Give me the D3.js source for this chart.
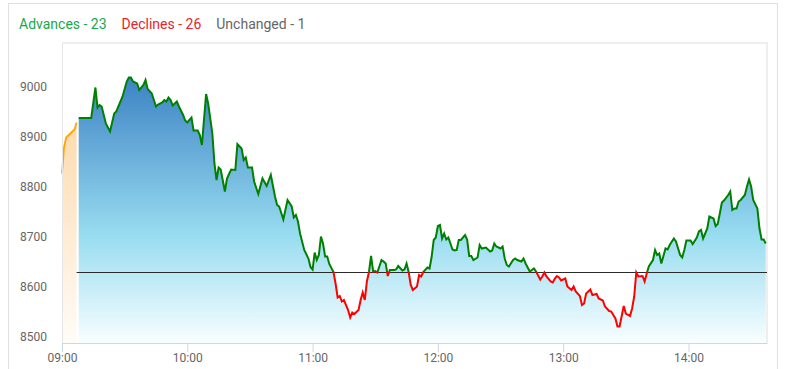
<!DOCTYPE html>
<html>
<head>
<meta charset="utf-8">
<script src="https://cdn.jsdelivr.net/npm/d3@7"></script>
<style>
    body { margin: 0; background: #fff; font-family: Roboto, "Noto Sans", sans-serif; }
</style>
</head>
<body>
<div id="chart"></div>
<script>
// legend
const legendLabels = ["Advances", "Declines", "Unchanged"];
const legendCounts = [23, 26, 1];
const legendColors = ["#17a84c", "#e8232c", "#666666"];

// axes
const yTicks = [8500, 8600, 8700, 8800, 8900, 9000];
const xTicks = ["09:00", "10:00", "11:00", "12:00", "13:00", "14:00"];
const yDomain = [8488, 9088];
const xDomain = ["09:00:00", "14:37:36"];

const prevClose = 8630;

// pre-open session
const preTimes = ["09:00", "09:01", "09:02", "09:04", "09:06", "09:07"];
const preValues = [8827, 8880, 8899, 8907, 8915, 8929];

// regular session
const times = [
    "09:08","09:14","09:16","09:17","09:18","09:19","09:21","09:23","09:25","09:26","09:28","09:29","09:31","09:32","09:33","09:34","09:36","09:37","09:39","09:40","09:41","09:43","09:45","09:46","09:48","09:49","09:50","09:51","09:52","09:53","09:55","09:56","09:58","09:59",
    "10:00","10:02","10:03","10:05","10:06","10:07","10:09","10:10","10:12","10:13","10:14","10:15","10:16","10:18","10:19","10:20","10:21","10:23","10:24","10:26","10:27","10:28","10:29","10:31","10:32","10:34","10:36","10:38","10:40","10:42","10:43","10:44","10:46","10:48","10:50","10:51","10:52","10:53","10:54","10:56","10:58","10:59",
    "11:00","11:01","11:02","11:03","11:04","11:05","11:06","11:07","11:08","11:10","11:11","11:12","11:13","11:14","11:15","11:17","11:18","11:19","11:20","11:22","11:23","11:24","11:25","11:26","11:27","11:28","11:29","11:30","11:31","11:33","11:34","11:35","11:36","11:37","11:39","11:40","11:41","11:43","11:44","11:45","11:46","11:47","11:48","11:50","11:51","11:52","11:53","11:55","11:56","11:57","11:58","11:59",
    "12:00","12:01","12:02","12:03","12:04","12:05","12:07","12:08","12:09","12:10","12:11","12:13","12:14","12:15","12:16","12:17","12:19","12:20","12:21","12:23","12:25","12:26","12:27","12:28","12:30","12:31","12:32","12:33","12:34","12:36","12:37","12:38","12:40","12:41","12:42","12:44","12:45","12:46","12:47","12:49","12:50","12:51","12:52","12:54","12:55","12:56","12:57","12:58","12:59",
    "13:01","13:02","13:04","13:05","13:06","13:08","13:09","13:10","13:11","13:13","13:14","13:16","13:17","13:19","13:20","13:22","13:23","13:25","13:26","13:27","13:29","13:30","13:32","13:33","13:34","13:35","13:36","13:38","13:39","13:40","13:41","13:43","13:44","13:45","13:46","13:47","13:49","13:50","13:51","13:53","13:54","13:56","13:57","13:58","13:59",
    "14:01","14:02","14:04","14:05","14:06","14:07","14:08","14:09","14:10","14:12","14:13","14:14","14:15","14:16","14:17","14:19","14:20","14:21","14:22","14:23","14:24","14:25","14:27","14:28","14:29","14:30","14:31","14:33","14:34","14:35","14:36","14:37"
];
const values = [
    8938,8938,8999,8959,8964,8961,8927,8911,8947,8951,8971,8981,9011,9019,9019,9011,9007,8994,9004,9014,8996,8987,8961,8965,8969,8974,8971,8979,8974,8963,8971,8961,8944,8933,
    8929,8939,8913,8913,8904,8884,8986,8967,8907,8847,8814,8839,8835,8791,8817,8826,8835,8834,8886,8877,8854,8859,8839,8839,8811,8786,8817,8802,8824,8781,8764,8761,8735,8774,8761,8739,8744,8731,8707,8674,8657,8640,
    8635,8669,8654,8664,8701,8687,8661,8661,8646,8630,8607,8579,8582,8571,8574,8554,8539,8549,8546,8554,8574,8589,8574,8611,8630,8662,8631,8632,8629,8654,8651,8647,8622,8634,8634,8635,8642,8633,8635,8647,8630,8604,8594,8601,8624,8621,8630,8639,8637,8660,8694,8699,
    8722,8724,8697,8707,8695,8699,8675,8673,8674,8694,8694,8704,8695,8662,8662,8654,8659,8684,8677,8679,8671,8673,8687,8681,8677,8681,8657,8644,8641,8654,8657,8654,8651,8657,8647,8631,8634,8637,8631,8615,8621,8629,8621,8611,8609,8617,8622,8619,8613,
    8617,8601,8594,8601,8591,8582,8564,8567,8587,8595,8584,8586,8577,8573,8561,8552,8551,8537,8521,8521,8562,8547,8542,8557,8581,8629,8621,8622,8611,8627,8641,8654,8674,8664,8667,8647,8677,8675,8684,8697,8691,8664,8659,8674,8693,
    8693,8686,8699,8711,8714,8697,8707,8717,8741,8737,8722,8726,8747,8769,8773,8784,8791,8754,8757,8757,8771,8774,8784,8801,8815,8801,8774,8757,8717,8695,8695,8687
];

const W = 788, H = 369;
const margin = { top: 43, right: 21, bottom: 26, left: 62 };
const width = W - margin.left - margin.right;
const height = H - margin.top - margin.bottom;

const parseTime = d3.timeParse("%H:%M");
const parseFull = d3.timeParse("%H:%M:%S");

const preData = preTimes.map((t, i) => ({ time: parseTime(t), value: preValues[i] }));
const data = times.map((t, i) => ({ time: parseTime(t), value: values[i] }));

const root = d3.select("#chart").append("svg")
    .attr("width", W)
    .attr("height", H);

// card outline
root.append("rect")
    .attr("x", 8.5).attr("y", 3.5)
    .attr("width", 769).attr("height", 400)
    .attr("fill", "none")
    .attr("stroke", "#e0e0e0");

// legend, laid out by measured width
let lx = 19;
legendLabels.forEach((label, i) => {
    const t = root.append("text")
        .attr("x", lx).attr("y", 29)
        .style("font-size", "14px")
        .attr("fill", legendColors[i])
        .text(`${label} - ${legendCounts[i]}`);
    lx += t.node().getComputedTextLength() + 15;
});

const defs = root.append("defs");

const mainGrad = defs.append("linearGradient")
    .attr("id", "mainGrad")
    .attr("gradientUnits", "userSpaceOnUse")
    .attr("x1", 0).attr("x2", 0)
    .attr("y1", 30).attr("y2", height);
mainGrad.append("stop").attr("offset", 0).attr("stop-color", "#3a80c3");
mainGrad.append("stop").attr("offset", 0.6).attr("stop-color", "#98dcf0");
mainGrad.append("stop").attr("offset", 1).attr("stop-color", "#f8feff");

const preGrad = defs.append("linearGradient")
    .attr("id", "preGrad")
    .attr("gradientUnits", "userSpaceOnUse")
    .attr("x1", 0).attr("x2", 0)
    .attr("y1", 70).attr("y2", height);
preGrad.append("stop").attr("offset", 0).attr("stop-color", "#fdd9ab");
preGrad.append("stop").attr("offset", 1).attr("stop-color", "#fffcf8");

const svg = root.append("g")
    .attr("transform", `translate(${margin.left},${margin.top})`);

const x = d3.scaleTime()
    .domain(xDomain.map(parseFull))
    .range([0, width]);
const y = d3.scaleLinear()
    .domain(yDomain)
    .range([height, 0]);

const yBase = y(prevClose);

defs.append("clipPath").attr("id", "clipUp")
    .append("rect").attr("x", 0).attr("y", -5).attr("width", width).attr("height", yBase + 5);
defs.append("clipPath").attr("id", "clipDown")
    .append("rect").attr("x", 0).attr("y", yBase).attr("width", width).attr("height", height - yBase + 5);

// plot frame (top and right)
svg.append("path")
    .attr("d", `M0,0H${width}V${height}`)
    .attr("fill", "none")
    .attr("stroke", "#eeeeee")
    .attr("stroke-width", 2);

const area = d3.area()
    .x(d => x(d.time))
    .y0(height)
    .y1(d => y(d.value));
const line = d3.line()
    .x(d => x(d.time))
    .y(d => y(d.value));

svg.append("path")
    .datum(preData)
    .attr("d", area)
    .attr("fill", "url(#preGrad)");
svg.append("path")
    .datum(data)
    .attr("d", area)
    .attr("fill", "url(#mainGrad)");

// previous close, snapped to a pixel row
svg.append("line")
    .attr("x1", x(preData[preData.length - 1].time)).attr("x2", width)
    .attr("y1", Math.round(yBase) + 0.5).attr("y2", Math.round(yBase) + 0.5)
    .attr("stroke", "#2b2b2b")
    .attr("stroke-width", 1);

svg.append("path")
    .datum(preData)
    .attr("d", line)
    .attr("fill", "none")
    .attr("stroke", "#ffa500")
    .attr("stroke-width", 1.8);

svg.append("path")
    .datum(data)
    .attr("d", line)
    .attr("clip-path", "url(#clipUp)")
    .attr("fill", "none")
    .attr("stroke", "#008000")
    .attr("stroke-width", 2);
svg.append("path")
    .datum(data)
    .attr("d", line)
    .attr("clip-path", "url(#clipDown)")
    .attr("fill", "none")
    .attr("stroke", "#ff0000")
    .attr("stroke-width", 2);

// axes
const gy = svg.append("g")
    .call(d3.axisLeft(y).tickValues(yTicks).tickSize(0).tickSizeOuter(0).tickPadding(15).tickFormat(d3.format("d")));
gy.select(".domain").attr("stroke", "#e6e6e6");
gy.selectAll("text").attr("fill", "#666").style("font-size", "12px").style("font-family", "Roboto, sans-serif");

const gx = svg.append("g")
    .attr("transform", `translate(0,${height})`)
    .call(d3.axisBottom(x).tickValues(xTicks.map(parseTime)).tickSize(9).tickSizeOuter(0).tickPadding(1).tickFormat(d3.timeFormat("%H:%M")));
gx.select(".domain").attr("stroke", "#ccd6eb");
gx.selectAll(".tick line").attr("stroke", "#ccd6eb");
gx.selectAll("text").attr("fill", "#666").style("font-size", "12px").style("font-family", "Roboto, sans-serif");
</script>
</body>
</html>
